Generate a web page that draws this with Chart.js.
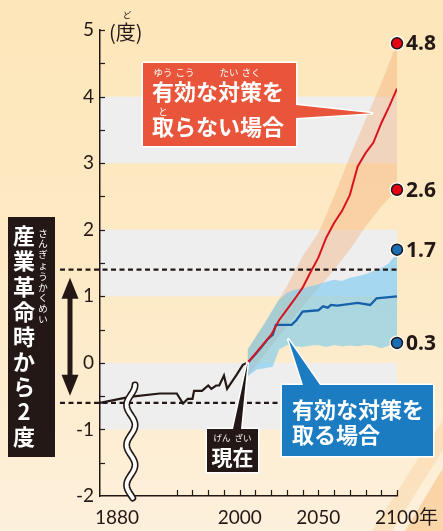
<!DOCTYPE html>
<html lang="ja">
<head>
<meta charset="utf-8">
<title>気温上昇の予測</title>
<script src="https://cdn.jsdelivr.net/npm/chart.js@4.4.1/dist/chart.umd.min.js"></script>
<style>
  html, body { margin: 0; padding: 0; }
  body {
    width: 443px;
    height: 531px;
    overflow: hidden;
    background: linear-gradient(to bottom, #fde6b9 0%, #fdeac6 55%, #fdf0dc 100%);
  }
  canvas { display: block; }
</style>
</head>
<body>
<canvas id="chart" width="443" height="531"></canvas>
<script>
const jp = '"Noto Sans CJK JP", sans-serif';
const ink = "#231815";

// x axis: labelled years and the small ticks
const yearLabels = [1880, 2000, 2050, 2100];
const minorTickYears = [1960, 1970, 1980, 1990, 2000, 2010, 2020, 2030, 2040, 2050, 2060, 2070, 2080, 2090, 2100];

// observed temperature (difference from today, degrees)
const histYears = [1853, 1900, 1948, 1960, 1964, 1967, 1970, 1971, 1976, 1980, 1982, 1985, 1987, 1990, 1992, 1998, 2002, 2005];
const histTemps = [-0.6, -0.51, -0.46, -0.46, -0.61, -0.54, -0.54, -0.42, -0.42, -0.34, -0.39, -0.34, -0.34, -0.19, -0.39, -0.18, -0.03, 0];

// 有効な対策を取らない場合
const noActionYears = [2005, 2010, 2015, 2020, 2025, 2030, 2035, 2040, 2045, 2050, 2055, 2060, 2065, 2070, 2075, 2080, 2085, 2090, 2095, 2100];
const noActionTemps = [0, 0.14, 0.28, 0.42, 0.64, 0.8, 0.96, 1.13, 1.36, 1.58, 1.88, 2.1, 2.28, 2.52, 2.95, 3.15, 3.31, 3.6, 3.85, 4.12];
const noActionBandYears = [2005, 2010, 2020, 2030, 2040, 2050, 2060, 2070, 2080, 2090, 2100];
const noActionHigh = [0.2, 0.38, 0.75, 1.15, 1.6, 1.95, 2.5, 3.1, 3.65, 4.2, 4.8];
const noActionLow = [-0.2, -0.05, 0.25, 0.55, 0.85, 1.12, 1.4, 1.7, 2.05, 2.35, 2.6];

// 有効な対策を取る場合
const actionYears = [2005, 2010, 2015, 2018, 2021, 2023, 2033, 2036, 2040, 2050, 2053, 2056, 2058, 2062, 2075, 2083, 2087, 2100];
const actionTemps = [0, 0.13, 0.27, 0.36, 0.42, 0.57, 0.57, 0.64, 0.77, 0.79, 0.85, 0.83, 0.87, 0.86, 0.9, 0.87, 0.97, 1.0];
const actionBandYears = [2005, 2011, 2016, 2021, 2025, 2030, 2035, 2040, 2045, 2050, 2055, 2060, 2065, 2070, 2075, 2080, 2085, 2090, 2095, 2100];
const actionHigh = [0.2, 0.42, 0.6, 0.8, 0.95, 1.05, 1.1, 1.12, 1.15, 1.18, 1.22, 1.25, 1.23, 1.28, 1.3, 1.33, 1.38, 1.42, 1.5, 1.65];
const actionLow = [-0.2, -0.1, -0.08, -0.06, 0.2, 0.27, 0.25, 0.24, 0.26, 0.27, 0.24, 0.27, 0.25, 0.26, 0.25, 0.27, 0.26, 0.22, 0.26, 0.3];

// range at 2100
const endYear = 2100;
const endValues = [4.8, 2.6, 1.7, 0.3];
const endColors = ["#e60012", "#e60012", "#1a6eb6", "#1a6eb6"];

const greyBands = [[3, 4], [1, 2], [-1, 0]];
const limitLines = [1.4, -0.6]; // 2 degrees above pre-industrial

// years before 1950 are squeezed behind the axis break
const breakYear = 1950;
const squeeze = 0.4;
function axisYear(year) {
  return year < breakYear ? breakYear - (breakYear - year) * squeeze : year;
}
function pts(xs, ys) {
  return xs.map((yr, i) => ({ x: axisYear(yr), y: ys[i] }));
}

function text(ctx, s, px, py, font, color, align) {
  ctx.font = font;
  ctx.fillStyle = color;
  ctx.textAlign = align || "left";
  ctx.textBaseline = "middle";
  ctx.fillText(s, px, py);
}

function calloutShape(ctx, corners, fill) {
  ctx.beginPath();
  corners.forEach(([px, py], i) => (i ? ctx.lineTo(px, py) : ctx.moveTo(px, py)));
  ctx.closePath();
  ctx.lineJoin = "round";
  ctx.strokeStyle = "#fff";
  ctx.lineWidth = 3;
  ctx.stroke();
  ctx.fillStyle = fill;
  ctx.fill();
}

const decor = {
  id: "decor",
  beforeDraw(chart) {
    const { ctx, chartArea: a, scales: { y } } = chart;
    ctx.save();
    // brush strokes in the corner
    ctx.fillStyle = "rgba(247, 196, 130, 0.3)";
    ctx.beginPath();
    ctx.moveTo(443, 420); ctx.lineTo(443, 450); ctx.lineTo(392, 531); ctx.lineTo(372, 531);
    ctx.closePath(); ctx.fill();
    ctx.fillStyle = "rgba(245, 180, 105, 0.45)";
    ctx.beginPath();
    ctx.moveTo(443, 468); ctx.lineTo(443, 531); ctx.lineTo(405, 531);
    ctx.closePath(); ctx.fill();
    // grey bands
    ctx.fillStyle = "#eeeeee";
    greyBands.forEach(([lo, hi]) => {
      const top = y.getPixelForValue(hi);
      const bot = y.getPixelForValue(lo);
      ctx.fillRect(a.left, top, a.right - a.left, bot - top);
    });
    ctx.restore();
  },
  beforeDatasetsDraw(chart) {
    const { ctx, chartArea: a, scales: { y } } = chart;
    ctx.save();
    ctx.strokeStyle = ink;
    ctx.lineWidth = 2.2;
    ctx.setLineDash([5, 3.5]);
    limitLines.forEach((v) => {
      const py = y.getPixelForValue(v);
      ctx.beginPath();
      ctx.moveTo(60, py);
      ctx.lineTo(a.right, py);
      ctx.stroke();
    });
    ctx.setLineDash([]);
    // white ring behind the end markers
    chart.getDatasetMeta(0).data.forEach((p) => {
      ctx.beginPath();
      ctx.arc(p.x, p.y, 7.5, 0, Math.PI * 2);
      ctx.fillStyle = "#fff";
      ctx.fill();
    });
    ctx.restore();
  },
  afterDatasetsDraw(chart) {
    const { ctx, chartArea: a, scales: { x, y } } = chart;
    ctx.save();

    // inward ticks
    ctx.strokeStyle = ink;
    ctx.lineWidth = 1.2;
    for (let v = -1.5; v <= 5; v += 0.5) {
      const py = Math.round(y.getPixelForValue(v)) + 0.5;
      ctx.beginPath(); ctx.moveTo(a.left, py); ctx.lineTo(a.left + 5, py); ctx.stroke();
    }
    minorTickYears.forEach((yr) => {
      const px = Math.round(x.getPixelForValue(yr)) + 0.5;
      ctx.beginPath(); ctx.moveTo(px, a.bottom); ctx.lineTo(px, a.bottom - 6); ctx.stroke();
    });

    // axis break
    const bx = x.getPixelForValue(axisYear(1902));
    ctx.beginPath();
    for (let py = 385; py <= 498; py++) {
      const px = bx + 4.2 * Math.cos(((py - 385) / 40) * Math.PI * 2);
      py === 385 ? ctx.moveTo(px, py) : ctx.lineTo(px, py);
    }
    ctx.lineCap = "round";
    ctx.strokeStyle = ink; ctx.lineWidth = 7; ctx.stroke();
    ctx.strokeStyle = "#fff"; ctx.lineWidth = 3.8; ctx.stroke();
    ctx.lineCap = "butt";

    // 2-degree arrow
    const ax = 70;
    const topTip = y.getPixelForValue(limitLines[0]) + 8;
    const botTip = y.getPixelForValue(limitLines[1]) - 7;
    ctx.fillStyle = ink;
    ctx.fillRect(ax - 2.5, topTip + 15, 5, botTip - topTip - 30);
    ctx.beginPath();
    ctx.moveTo(ax, topTip); ctx.lineTo(ax - 8.5, topTip + 21); ctx.lineTo(ax + 8.5, topTip + 21);
    ctx.closePath(); ctx.fill();
    ctx.beginPath();
    ctx.moveTo(ax, botTip); ctx.lineTo(ax - 8.5, botTip - 21); ctx.lineTo(ax + 8.5, botTip - 21);
    ctx.closePath(); ctx.fill();

    // left caption
    ctx.fillStyle = ink;
    ctx.fillRect(8, 217, 47, 240);
    Array.from("産業革命時から2度").forEach((ch, i) => {
      text(ctx, ch, 24, 236 + i * 25.1, "bold 22px " + jp, "#fff", "center");
    });
    Array.from("さんぎょうかくめい").forEach((ch, i) => {
      text(ctx, ch, 43, 233 + i * 10.8, "9.5px " + jp, "#fff", "center");
    });

    // unit
    text(ctx, "(度)", 109, 32, "20px " + jp, ink);
    text(ctx, "ど", 127, 15, "8.5px " + jp, ink, "center");
    // 年 after 2100
    text(ctx, "年", x.getPixelForValue(2100) + 22, 517, "19px " + jp, ink);

    // 現在
    const nx = x.getPixelForValue(2005);
    const ny = y.getPixelForValue(0);
    calloutShape(ctx, [[207, 429], [233, 429], [nx, ny], [241, 429], [258, 429], [258, 472], [207, 472]], ink);
    text(ctx, "現在", 232.5, 457, "bold 21px " + jp, "#fff", "center");
    text(ctx, "げん", 222, 438, "8.5px " + jp, "#fff", "center");
    text(ctx, "ざい", 243, 438, "8.5px " + jp, "#fff", "center");

    // 有効な対策を取る場合
    const bTipX = x.getPixelForValue(2031);
    const bTipY = y.getPixelForValue(0.35);
    calloutShape(ctx, [[282, 385], [303, 385], [bTipX, bTipY], [320, 385], [433, 385], [433, 456], [282, 456]], "#1b7cc2");
    text(ctx, "有効な対策を", 292, 410, "bold 22px " + jp, "#fff");
    text(ctx, "取る場合", 292, 435, "bold 22px " + jp, "#fff");

    // 有効な対策を取らない場合
    const rTipX = x.getPixelForValue(2084);
    const rTipY = y.getPixelForValue(3.75);
    calloutShape(ctx, [[143, 63], [296, 63], [296, 105], [rTipX, rTipY], [296, 118], [296, 146], [143, 146]], "#e8553a");
    text(ctx, "有効な対策を", 152, 92, "bold 22px " + jp, "#fff");
    text(ctx, "取らない場合", 152, 127, "bold 22px " + jp, "#fff");
    [["ゆう", 0], ["こう", 1], ["たい", 3], ["さく", 4]].forEach(([kana, idx]) => {
      text(ctx, kana, 152 + (idx + 0.5) * 22, 72, "9.5px " + jp, "#fff", "center");
    });
    text(ctx, "と", 163, 111, "9.5px " + jp, "#fff", "center");

    // values at 2100
    chart.getDatasetMeta(0).data.forEach((p, i) => {
      text(ctx, String(endValues[i]), p.x + 9, p.y + 1, 'bold 21px "Noto Sans", sans-serif', ink);
    });

    ctx.restore();
  },
};

new Chart(document.getElementById("chart"), {
  type: "line",
  data: {
    datasets: [
      {
        label: "2100",
        data: endValues.map((v) => ({ x: endYear, y: v })),
        showLine: false,
        pointRadius: 5.5,
        pointBackgroundColor: endColors,
        pointBorderColor: ink,
        pointBorderWidth: 1.5,
        clip: false,
      },
      {
        label: "対策なし",
        data: pts(noActionYears, noActionTemps),
        borderColor: "#d9141c",
        borderWidth: 2,
        pointRadius: 0,
        fill: false,
      },
      {
        label: "対策あり",
        data: pts(actionYears, actionTemps),
        borderColor: "#1560a8",
        borderWidth: 2.3,
        pointRadius: 0,
        fill: false,
      },
      {
        label: "観測",
        data: pts(histYears, histTemps),
        borderColor: ink,
        borderWidth: 2.2,
        pointRadius: 0,
        fill: false,
      },
      {
        label: "対策あり上限",
        data: pts(actionBandYears, actionHigh),
        borderWidth: 0,
        pointRadius: 0,
        fill: "+1",
        backgroundColor: "rgba(112, 200, 242, 0.58)",
      },
      {
        label: "対策あり下限",
        data: pts(actionBandYears, actionLow),
        borderWidth: 0,
        pointRadius: 0,
        fill: false,
      },
      {
        label: "対策なし上限",
        data: pts(noActionBandYears, noActionHigh),
        borderWidth: 0,
        pointRadius: 0,
        fill: "+1",
        backgroundColor: "rgba(243, 172, 118, 0.4)",
      },
      {
        label: "対策なし下限",
        data: pts(noActionBandYears, noActionLow),
        borderWidth: 0,
        pointRadius: 0,
        fill: false,
      },
    ],
  },
  options: {
    responsive: false,
    animation: false,
    layout: { padding: { top: 30, right: 46, bottom: 0, left: 0 } },
    plugins: {
      legend: { display: false },
      tooltip: { enabled: false },
      filler: { drawTime: "beforeDatasetsDraw" },
    },
    scales: {
      x: {
        type: "linear",
        min: axisYear(1853),
        max: 2100,
        grid: { display: false, drawTicks: false },
        border: { color: ink, width: 1.5 },
        afterBuildTicks: (scale) => {
          scale.ticks = yearLabels.map((yr) => ({ value: axisYear(yr) }));
        },
        afterFit: (scale) => { scale.height = 35; },
        ticks: {
          autoSkip: false,
          maxRotation: 0,
          padding: 10,
          color: ink,
          font: { family: "Lato", size: 19 },
          callback: (v, i) => String(yearLabels[i]),
        },
      },
      y: {
        min: -2,
        max: 5,
        grid: { display: false, drawTicks: false },
        border: { color: ink, width: 1.5 },
        afterFit: (scale) => { scale.width = 100; },
        ticks: {
          stepSize: 1,
          padding: 6,
          color: ink,
          font: { family: "Lato", size: 19 },
          callback: (v) => String(v),
        },
      },
    },
  },
  plugins: [decor],
});
</script>
</body>
</html>
